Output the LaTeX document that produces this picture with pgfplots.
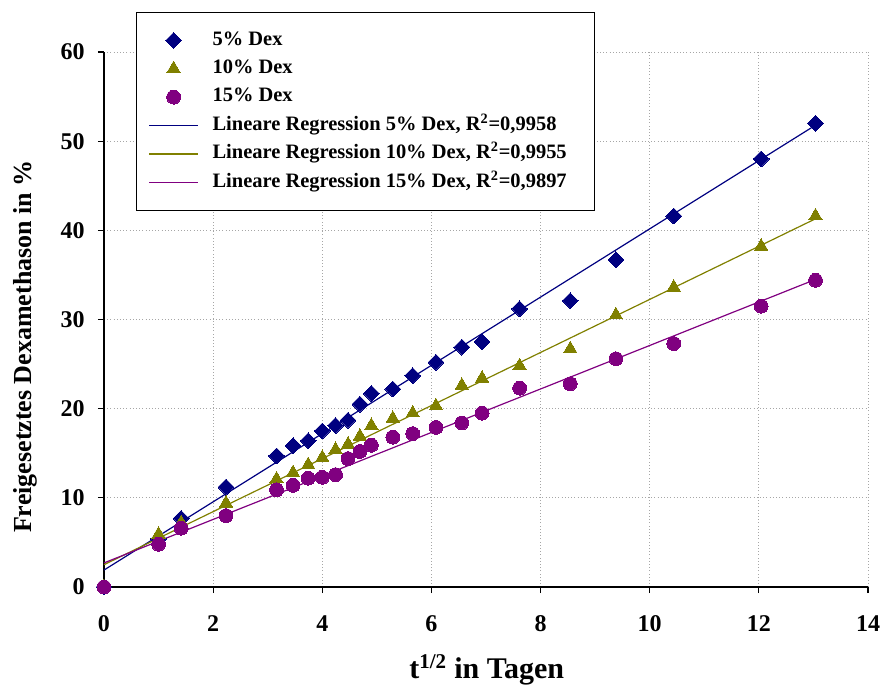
\documentclass[border=0pt]{standalone}
\usepackage{fontspec}
\setmainfont{Liberation Serif}
\usepackage{pgfplots}
\pgfplotsset{compat=1.18}
\usepackage{pgfplotstable}

\definecolor{dnavy}{HTML}{000080}
\definecolor{dolive}{HTML}{808000}
\definecolor{dpurple}{HTML}{800080}

% x = sqrt(t) in days
\pgfplotstableread{
x      d5    d10   d15
0      0     0     0
1.000  5.4   5.9   4.8
1.414  7.7   7.2   6.6
2.236  11.2  9.4   8.0
3.162  14.7  12.1  10.9
3.464  15.85 12.8  11.4
3.742  16.4  13.7  12.2
4.000  17.5  14.5  12.3
4.243  18.1  15.4  12.6
4.472  18.7  16.0  14.4
4.690  20.5  16.9  15.2
4.899  21.7  18.1  15.9
5.292  22.2  18.9  16.8
5.657  23.7  19.5  17.2
6.083  25.2  20.3  17.9
6.557  26.9  22.6  18.4
6.928  27.5  23.4  19.5
7.616  31.2  24.8  22.3
8.544  32.1  26.7  22.8
9.381  36.7  30.5  25.6
10.440 41.6  33.6  27.3
12.042 48.0  38.2  31.5
13.038 52.0  41.6  34.4
}\dexdata

\begin{document}
\begin{tikzpicture}
\path[use as bounding box] (-78pt,-76.5pt) rectangle (583.5pt,440.25pt);
\begin{axis}[
    at={(0,0)}, anchor=south west,
    scale only axis, width=573pt, height=401.25pt,
    xmin=0, xmax=14, ymin=0, ymax=60,
    xtick={0,2,...,14}, ytick={0,10,...,60},
    axis x line=bottom, axis y line=left,
    axis line style={line width=1.8pt, -},
    tick align=outside, major tick length=4.5pt,
    tick style={black, line width=0.8pt},
    grid=major,
    major grid style={black!35, dotted, line width=0.6pt},
    ticklabel style={font=\fontsize{18}{20}\selectfont\bfseries},
    xticklabel style={yshift=-13.5pt},
    yticklabel style={xshift=-6.5pt},
    /pgf/number format/assume math mode=true,
    xlabel={t\textsuperscript{1/2} in Tagen},
    ylabel={Freigesetztes Dexamethason in \%},
    every axis x label/.style={at={(axis description cs:0.501,-0.155)},
        anchor=center, font=\fontsize{22.5}{25}\selectfont\bfseries},
    every axis y label/.style={at={(axis description cs:-0.1034,0.4495)},
        anchor=center, rotate=90, font=\fontsize{19.5}{22}\selectfont\bfseries},
    clip=false,
    legend cell align=left,
    legend style={at={(0.042,1.075)}, anchor=north west,
        draw=black, line width=0.75pt, fill=white,
        font=\fontsize{15.35}{18}\selectfont\bfseries,
        inner xsep=4pt, inner ysep=12pt, row sep=3.3pt,
        nodes={inner sep=1.5pt, text height=11pt, text depth=4pt}},
    mlegend/.style={legend image code/.code={
        \path (0pt,0pt) (50.75pt,0pt);
        \draw[##1] plot coordinates {(23.4pt,0pt)};}},
    llegend/.style={legend image code/.code={
        \path (0pt,0pt) (50.75pt,0pt);
        \draw[##1, line width=1.3pt] (5pt,0pt) -- (41.75pt,0pt);}},
]
% regression lines
\addplot[dnavy, line width=0.9pt, forget plot] coordinates {(0,1.9) (13.04,51.8)};
\addplot[dolive, line width=0.9pt, forget plot] coordinates {(0,2.5) (13.04,41.3)};
\addplot[dpurple, line width=0.9pt, forget plot] coordinates {(0,2.7) (13.04,34.5)};

% measured points
\addplot[only marks, mlegend, mark=square*, mark size=4.2pt,
    mark options={rotate=45, fill=dnavy, draw=dnavy, line width=0pt}]
    table[x=x, y=d5] {\dexdata};
\addlegendentry{5\% Dex}
\addplot[only marks, mlegend, mark=triangle*, mark size=5.8pt,
    mark options={fill=dolive, draw=dolive, line width=0pt}]
    table[x=x, y=d10] {\dexdata};
\addlegendentry{10\% Dex}
\addplot[only marks, mlegend, mark=*, mark size=5.2pt,
    mark options={fill=dpurple, draw=dpurple, line width=0pt}]
    table[x=x, y=d15] {\dexdata};
\addlegendentry{15\% Dex}

\addlegendimage{llegend, dnavy}
\addlegendentry{\makebox[281pt][l]{Lineare Regression 5\% Dex, R\textsuperscript{2}=0,9958}}
\addlegendimage{llegend, dolive}
\addlegendentry{Lineare Regression 10\% Dex, R\textsuperscript{2}=0,9955}
\addlegendimage{llegend, dpurple}
\addlegendentry{Lineare Regression 15\% Dex, R\textsuperscript{2}=0,9897}
\end{axis}
\end{tikzpicture}
\end{document}
